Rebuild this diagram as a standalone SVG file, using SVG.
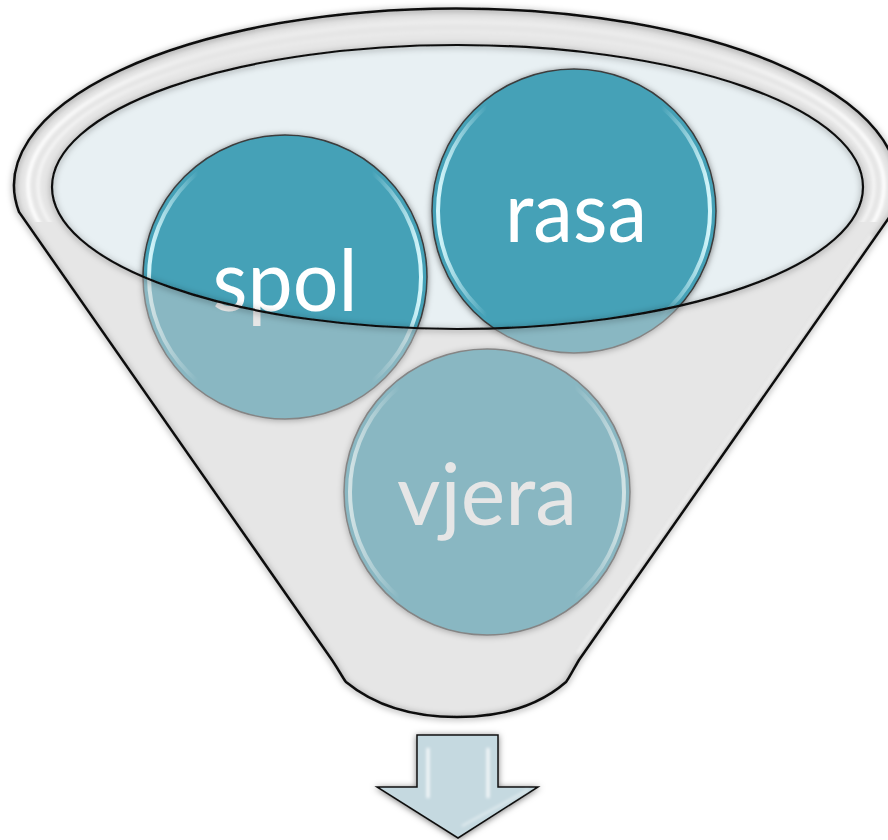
<svg xmlns="http://www.w3.org/2000/svg" width="888" height="840" viewBox="0 0 888 840">
<defs>
<style>
.ball{fill:#44A1B7;stroke:#3c3c3c;stroke-width:1.5}
.gloss{fill:none;stroke:url(#gl);stroke-width:4}
.lbl{font-family:Lato,"Open Sans","Liberation Sans",sans-serif;font-size:85px;fill:#ffffff;text-anchor:middle}
.hl{fill:none;stroke:#ffffff;filter:url(#bl)}
.rimhl{fill:none;stroke:url(#rg);filter:url(#bl)}
</style>
<linearGradient id="gl" x1="0" y1="0" x2="1" y2="0">
<stop offset="0" stop-color="#dcfbff" stop-opacity="0.95"/>
<stop offset="0.18" stop-color="#dcfbff" stop-opacity="0"/>
<stop offset="0.82" stop-color="#dcfbff" stop-opacity="0"/>
<stop offset="1" stop-color="#dcfbff" stop-opacity="0.95"/>
</linearGradient>
<linearGradient id="rg" x1="0" y1="0" x2="1" y2="0">
<stop offset="0" stop-color="#ffffff" stop-opacity="0.95"/>
<stop offset="0.2" stop-color="#ffffff" stop-opacity="0.25"/>
<stop offset="0.8" stop-color="#ffffff" stop-opacity="0.25"/>
<stop offset="1" stop-color="#ffffff" stop-opacity="0.95"/>
</linearGradient>
<clipPath id="topclip"><rect x="0" y="0" width="888" height="222"/></clipPath>
<filter id="sh" x="-20%" y="-20%" width="140%" height="140%">
<feDropShadow dx="0" dy="1" stdDeviation="3" flood-color="#000" flood-opacity="0.5"/>
</filter>
<filter id="bl" x="-10%" y="-10%" width="120%" height="120%">
<feGaussianBlur stdDeviation="1.5"/>
</filter>
<path id="fpath" d="M 19,212 A 442 177 0 1 1 893,212 L 579,660 C 572,672 568,680 566,682 C 534,710 494,717 457,717 C 420,717 380,710 346,682 C 344,680 340,672 332,660 Z"/>
</defs>

<g id="funnel-back">
<use href="#fpath" fill="#ffffff"/>
<ellipse cx="457.5" cy="187" rx="405.5" ry="142" fill="#E8F0F3"/>
</g>

<g id="circle-spol">
<circle class="ball" cx="285" cy="277" r="142" filter="url(#sh)"/>
<circle class="gloss" cx="285" cy="277" r="136"/>
<text class="lbl" x="285" y="311" textLength="145" lengthAdjust="spacingAndGlyphs">spol</text>
</g>
<g id="circle-rasa">
<circle class="ball" cx="574" cy="211" r="142" filter="url(#sh)"/>
<circle class="gloss" cx="574" cy="211" r="136"/>
<text class="lbl" x="576" y="242" textLength="142" lengthAdjust="spacingAndGlyphs">rasa</text>
</g>
<g id="circle-vjera">
<circle class="ball" cx="487" cy="492" r="143" filter="url(#sh)"/>
<circle class="gloss" cx="487" cy="492" r="137"/>
<text class="lbl" x="487" y="525" textLength="180" lengthAdjust="spacingAndGlyphs">vjera</text>
</g>

<g id="funnel-front">
<path fill="#CDCDCD" fill-opacity="0.5" fill-rule="evenodd" d="M 19,212 A 442 177 0 1 1 893,212 L 579,660 C 572,672 568,680 566,682 C 534,710 494,717 457,717 C 420,717 380,710 346,682 C 344,680 340,672 332,660 Z M 52,187 A 405.5 142 0 1 0 863,187 A 405.5 142 0 1 0 52,187 Z"/>
<g clip-path="url(#topclip)">
<ellipse class="rimhl" cx="456" cy="186" rx="428" ry="164" stroke-width="4"/>
<ellipse class="rimhl" cx="456" cy="186" rx="418" ry="154" stroke-width="3" stroke-opacity="0.7"/>
</g>
<path class="hl" d="M 872,236 L 578,654" stroke-width="4" stroke-opacity="0.8"/>
<use href="#fpath" fill="none" stroke="#111111" stroke-width="2.5" filter="url(#sh)"/>
<ellipse cx="457.5" cy="187" rx="405.5" ry="142" fill="none" stroke="#111111" stroke-width="2.2" filter="url(#sh)"/>
</g>

<g id="arrow">
<polygon points="417,735 498,735 498,787 538,787 458,838 377,787 417,787" fill="#C5D9E0" stroke="#111111" stroke-width="1.5" stroke-linejoin="miter" filter="url(#sh)"/>
<path class="hl" d="M 428,748 L 428,798 M 488,748 L 488,798" stroke-width="3" stroke-opacity="0.85"/>
<path class="hl" d="M 462,826 L 528,790" stroke-width="2" stroke-opacity="0.5"/>
</g>
<g id="connectors"/>
</svg>
